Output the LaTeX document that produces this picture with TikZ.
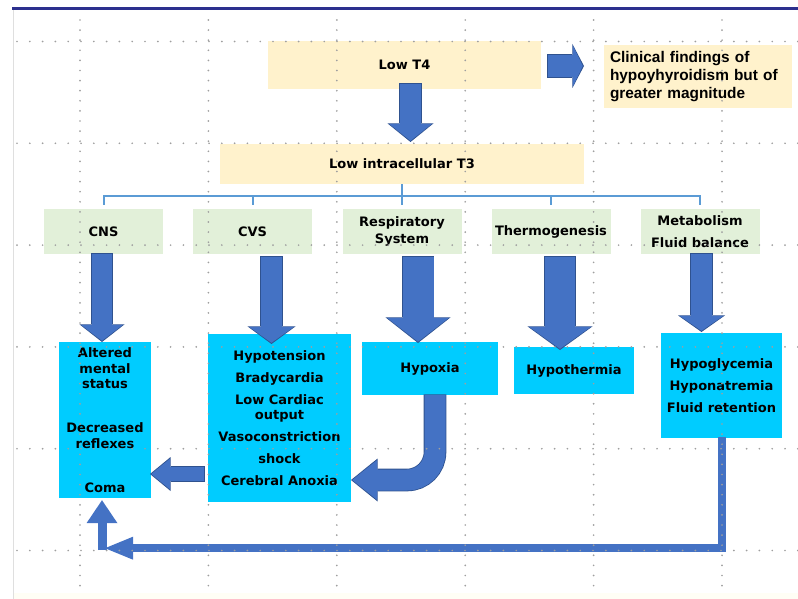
\documentclass[tikz,border=0pt]{standalone}
\usepackage{fontspec}
\setmainfont{DejaVu Sans}
\newfontfamily\arialfont{Liberation Sans}
\usetikzlibrary{positioning, arrows.meta, calc}

\definecolor{toprule}{RGB}{44,48,142}
\definecolor{noteyellow}{RGB}{255,242,204}
\definecolor{sysgreen}{RGB}{226,240,217}
\definecolor{findcyan}{RGB}{0,204,255}
\definecolor{arrowblue}{RGB}{68,114,196}
\definecolor{arrowedge}{RGB}{47,82,143}
\definecolor{linkblue}{RGB}{91,155,213}

\begin{document}
\begin{tikzpicture}[
  x=1pt, y=-1pt,
  every node/.style={font=\bfseries\fontsize{13}{15.5}\selectfont, inner sep=0pt, align=center},
  note/.style={fill=noteyellow},
  system/.style={fill=sysgreen, minimum width=119pt, minimum height=45pt},
  finding/.style={fill=findcyan},
  bracket/.style={draw=linkblue, line width=2pt},
  blockarrow/.style n args={3}{draw=arrowblue, line width=#1,
    -{Triangle[width=#2, length=#3, line width=0pt]},
    preaction={draw=arrowedge, line width=#1+1.6pt, shorten >=-1.2pt, shorten <=-0.8pt,
      -{Triangle[width=#2+3pt, length=#3+1.6pt, line width=0pt]}}},
  returnline/.style={draw=arrowblue, line width=8.5pt, -{Triangle[width=23pt, length=28pt, line width=0pt]}},
  uparrow/.style={draw=arrowblue, line width=9pt, -{Triangle[width=31pt, length=23pt, line width=0pt]}},
  griddots/.style={draw=gray!75, line width=1.9pt, line cap=round}
]
\useasboundingbox (0,0) rectangle (798,599);

% slide frame
\fill[yellow!4] (13,593) rectangle (798,599);
\draw[gray!25, line width=0.8pt] (13,10) -- (13,599);
\draw[toprule, line width=2.6pt] (12,8.7) -- (798,8.7);

% top of the cascade
\node[note, minimum width=273pt, minimum height=48pt] (lowtfour) at (404.5,65) {Low T4};
\node[note, minimum width=188pt, minimum height=63pt, inner xsep=6pt, text width=176pt, align=left,
  font=\arialfont\bfseries\fontsize{15.4}{18}\selectfont] (clinical) at (698,76.5)
  {Clinical findings of\\hypoyhyroidism but of\\greater magnitude};
\node[note, minimum width=364pt, minimum height=40pt] (lowtthree) at (402,164) {Low intracellular T3};

% organ systems
\node[system] (cns) at (103.5,231.5) {CNS};
\node[system] (cvs) at (252.5,231.5) {CVS};
\node[system, font=\bfseries\fontsize{13}{17}\selectfont] (resp) at (402,231.5) {Respiratory\\System};
\node[system] (thermo) at (551,231.5) {Thermogenesis};
\node[system] (metab) at (700,231.5) {Metabolism\\[6.5pt]Fluid balance};

% findings
\node[finding, minimum width=92pt, minimum height=156pt] (cnsres) at (105,420)
  {Altered\\mental\\status\\[28.5pt]Decreased\\reflexes\\[28.5pt]Coma};
\node[finding, minimum width=143pt, minimum height=168pt] (cvsres) at (279.5,418)
  {Hypotension\\[6.5pt]Bradycardia\\[6.5pt]Low Cardiac\\output\\[6.5pt]Vasoconstriction\\[6.5pt]shock\\[6.5pt]Cerebral Anoxia};
\node[finding, minimum width=136pt, minimum height=53pt] (hypoxia) at (430,368.5) {Hypoxia};
\node[finding, minimum width=120pt, minimum height=47pt] (hypothermia) at (574,370.5) {Hypothermia};
\node[finding, minimum width=121pt, minimum height=105pt] (metabres) at (721.5,385.5)
  {Hypoglycemia\\[6.5pt]Hyponatremia\\[6.5pt]Fluid retention};

% bracket from T3 to the systems
\foreach \sys in {cns,cvs,resp,thermo,metab}
  \draw[bracket] (lowtthree.south) -- ++(0,12) -| ([yshift=4pt]\sys.north);

% block arrows
\draw[blockarrow={21pt}{43pt}{17pt}] ([xshift=6pt,yshift=5pt]lowtfour.south) -- ([xshift=8.5pt,yshift=3pt]lowtthree.north);
\draw[blockarrow={22pt}{41pt}{10pt}] ([xshift=7pt,yshift=-1pt]lowtfour.east) -- ([xshift=-21pt,yshift=10.5pt]clinical.west);
\draw[blockarrow={20pt}{42pt}{16pt}] ([xshift=-1.5pt]cns.south) -- ([xshift=-3pt,yshift=1pt]cnsres.north);
\draw[blockarrow={21pt}{45pt}{16pt}] ([xshift=19pt,yshift=-3pt]cvs.south) -- ([xshift=-8pt,yshift=-9pt]cvsres.north);
\draw[blockarrow={31pt}{62pt}{24pt}] ([xshift=16pt,yshift=-3pt]resp.south) -- ([xshift=-12pt]hypoxia.north);
\draw[blockarrow={30pt}{62pt}{22pt}] ([xshift=9pt,yshift=-3pt]thermo.south) -- ([xshift=-14pt,yshift=-2pt]hypothermia.north);
\draw[blockarrow={21pt}{44pt}{15pt}] ([xshift=1.5pt]metab.south) -- ([xshift=-20pt,yshift=2pt]metabres.north);
\draw[blockarrow={14pt}{31pt}{19pt}] ([xshift=-4pt,yshift=-56pt]cvsres.west) -- ([yshift=-54pt]cnsres.east);
\draw[blockarrow={21pt}{40pt}{25pt}, rounded corners=28pt] ([xshift=5pt]hypoxia.south) |- ([xshift=1pt,yshift=-62pt]cvsres.east);

% return to the CNS
\draw[returnline] ([xshift=.5pt,yshift=1pt]metabres.south) |- ([yshift=-50pt]cnsres.south);
\draw[uparrow] ([xshift=-3pt,yshift=-52pt]cnsres.south) -- ([xshift=-3pt,yshift=-2pt]cnsres.south);

% dotted guides
\foreach \gx in {80,208.4,336.8,465.2,593.6,722}
  \draw[griddots, dash pattern=on 0pt off 10.1pt] (\gx,20) -- (\gx,594);
\foreach \gy in {41.5,143.3,245.1,346.9,448.7,550.5}
  \draw[griddots, dash pattern=on 0pt off 12.8pt] (17,\gy) -- (798,\gy);

\end{tikzpicture}
\end{document}
